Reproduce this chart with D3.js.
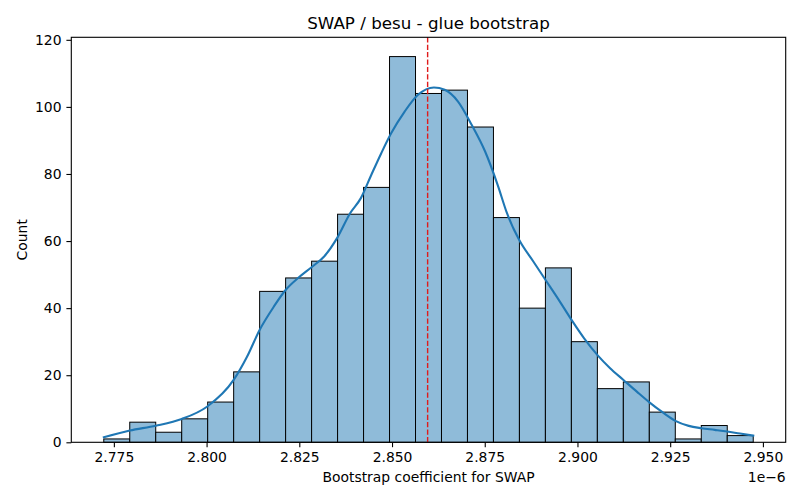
<!DOCTYPE html>
<html>
<head>
<meta charset="utf-8">
<script src="https://cdn.jsdelivr.net/npm/d3@7"></script>
<style>
  body { margin: 0; background: #fff; }
  svg { font-family: "DejaVu Sans", sans-serif; }
</style>
</head>
<body>
<div id="chart"></div>
<script>
// histogram of bootstrap coefficients (x values in units of 1e-6)

const binLo = 2.77228;
const binHi = 2.94739;
const counts = [1, 6, 3, 7, 12, 21, 45, 49, 54, 68, 76, 115, 104, 105, 94, 67, 40, 52, 30, 16, 18, 9, 1, 5, 2];

// kde curve (x, count)
const kdeX = [2.7723, 2.7793, 2.7863, 2.7933, 2.8001, 2.8073, 2.8109, 2.8143, 2.8181, 2.8213,
  2.8249, 2.8283, 2.8317, 2.8353, 2.8387, 2.8416, 2.8444, 2.8471, 2.8498, 2.8534, 2.8570,
  2.8613, 2.8642, 2.8678, 2.8715, 2.8751, 2.8785, 2.8810, 2.8843, 2.8881, 2.8914, 2.8950,
  2.8984, 2.9018, 2.9054, 2.9088, 2.9124, 2.9160, 2.9194, 2.9230, 2.9264, 2.9300, 2.9334,
  2.9370, 2.9404, 2.9438, 2.9474];
const kdeY = [1.5, 3.5, 4.95, 6.95, 10.6, 18.6, 25.5, 33.5, 40.4, 45.4,
  49.2, 52.2, 55.4, 61.1, 68.3, 72.8, 79.7, 86.2, 92.2, 98.6, 103.6,
  105.8, 105.1, 101.6, 94.6, 86.7, 76.7, 68.3, 60.3, 53.9, 48.4, 42.4,
  36.5, 31.0, 26.0, 22.1, 18.6, 15.1, 11.9, 8.9, 6.4, 4.9, 4.2,
  3.7, 3.2, 2.6, 2.0];

const meanValue = 2.8596;
const xTicks = [2.775, 2.800, 2.825, 2.850, 2.875, 2.900, 2.925, 2.950];
const yTicks = [0, 20, 40, 60, 80, 100, 120];

const WIDTH = 800, HEIGHT = 500;
const PLOT_L = 71.3, PLOT_R = 785.7, PLOT_T = 37.3, PLOT_B = 442.3;

const span = binHi - binLo;
const x = d3.scaleLinear()
  .domain([binLo - 0.05 * span, binHi + 0.05 * span])
  .range([PLOT_L, PLOT_R]);
const y = d3.scaleLinear()
  .domain([0, d3.max(counts) * 1.05])
  .range([PLOT_B, PLOT_T]);

const svg = d3.select('#chart').append('svg')
  .attr('width', WIDTH)
  .attr('height', HEIGHT);

const binW = span / counts.length;
const bins = counts.map((c, i) => ({ x0: binLo + i * binW, x1: binLo + (i + 1) * binW, c }));

svg.append('g')
  .selectAll('rect')
  .data(bins)
  .enter()
  .append('rect')
  .attr('x', d => x(d.x0))
  .attr('y', d => y(d.c))
  .attr('width', d => x(d.x1) - x(d.x0))
  .attr('height', d => y(0) - y(d.c))
  .attr('fill', '#8fbbd9')
  .attr('stroke', '#000')
  .attr('stroke-width', 1);

const line = d3.line()
  .x((d, i) => x(kdeX[i]))
  .y(d => y(d))
  .curve(d3.curveMonotoneX);

svg.append('path')
  .datum(kdeY)
  .attr('d', line)
  .attr('fill', 'none')
  .attr('stroke', '#1f77b4')
  .attr('stroke-width', 2.1)
  .attr('stroke-linecap', 'square');

svg.append('line')
  .attr('x1', x(meanValue))
  .attr('x2', x(meanValue))
  .attr('y1', PLOT_T)
  .attr('y2', PLOT_B)
  .attr('stroke', '#e01b1b')
  .attr('stroke-width', 1.4)
  .attr('stroke-dasharray', '5.2,2.2');

// axes
const xAxis = svg.append('g')
  .attr('transform', `translate(0,${PLOT_B})`)
  .call(d3.axisBottom(x).tickValues(xTicks).tickFormat(d3.format('.3f'))
    .tickSize(4.9).tickPadding(4.9).tickSizeOuter(0));
const yAxis = svg.append('g')
  .attr('transform', `translate(${PLOT_L},0)`)
  .call(d3.axisLeft(y).tickValues(yTicks).tickFormat(d3.format('d'))
    .tickSize(4.9).tickPadding(4.9).tickSizeOuter(0));

[xAxis, yAxis].forEach(g => {
  g.select('.domain').remove();
  g.selectAll('text')
    .attr('font-family', '"DejaVu Sans", sans-serif')
    .attr('font-size', 13.9)
    .attr('fill', '#000');
  g.selectAll('line').attr('stroke', '#000').attr('stroke-width', 1.1);
});

svg.append('rect')
  .attr('x', PLOT_L)
  .attr('y', PLOT_T)
  .attr('width', PLOT_R - PLOT_L)
  .attr('height', PLOT_B - PLOT_T)
  .attr('fill', 'none')
  .attr('stroke', '#000')
  .attr('stroke-width', 1.1);

// labels
svg.append('text')
  .attr('x', (PLOT_L + PLOT_R) / 2)
  .attr('y', 29)
  .attr('text-anchor', 'middle')
  .attr('font-size', 16.7)
  .text('SWAP / besu - glue bootstrap');

svg.append('text')
  .attr('x', (PLOT_L + PLOT_R) / 2)
  .attr('y', 482)
  .attr('text-anchor', 'middle')
  .attr('font-size', 13.9)
  .text('Bootstrap coefficient for SWAP');

svg.append('text')
  .attr('x', PLOT_R)
  .attr('y', 482)
  .attr('text-anchor', 'end')
  .attr('font-size', 13.9)
  .text('1e\u22126');

svg.append('text')
  .attr('transform', `translate(27,${(PLOT_T + PLOT_B) / 2}) rotate(-90)`)
  .attr('text-anchor', 'middle')
  .attr('font-size', 13.9)
  .text('Count');
</script>
</body>
</html>
